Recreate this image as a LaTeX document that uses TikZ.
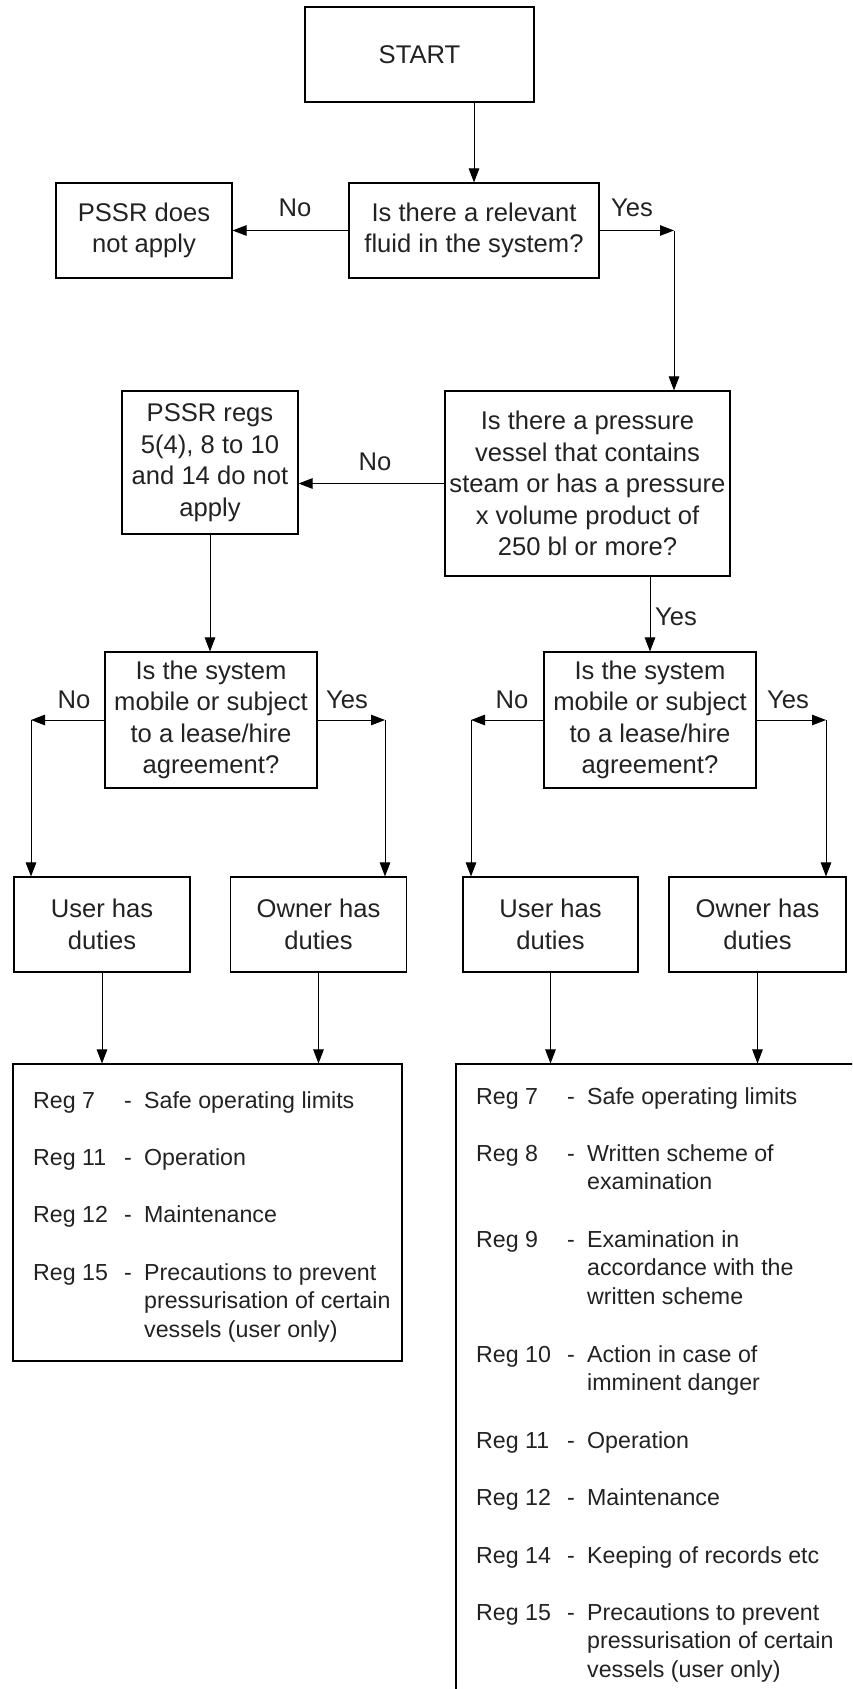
\documentclass[tikz,border=0pt]{standalone}
\usepackage{fontspec}
\setmainfont{Liberation Sans}
\usetikzlibrary{arrows.meta,calc}
\definecolor{txt}{HTML}{222222}
\begin{document}
\begin{tikzpicture}[x=1pt,y=-1pt,
  box/.style={draw, line width=1.1pt, align=center, inner sep=0pt,
    font=\fontsize{25.6}{31.5}\selectfont, text=txt},
  arr/.style={line width=1pt, -{Triangle[length=14pt,width=10.5pt]}},
  lbl/.style={font=\fontsize{25.6}{31.5}\selectfont, text=txt, inner sep=0pt},
  regbox/.style={draw, line width=1.1pt, inner sep=0pt},
  reg/.style={font=\fontsize{23.2}{28.7}\selectfont, text=txt, inner sep=0pt, anchor=base west},
]
\useasboundingbox (0,0) rectangle (852,1689);
\clip (0,0) rectangle (852,1689);

% flowchart boxes
\node[box, minimum width=229pt, minimum height=95pt] (start) at (419.5,54.5) {START};
\node[box, minimum width=250pt, minimum height=95pt] (q1) at (474,230.5) {Is there a relevant\\fluid in the system?};
\node[box, minimum width=176pt, minimum height=95pt] (pssr) at (144,230.5) {PSSR does\\not apply};
\node[box, minimum width=285pt, minimum height=185pt] (q2) at (587.5,483.5) {Is there a pressure\\vessel that contains\\steam or has a pressure\\x volume product of\\250 bl or more?};
\node[box, minimum width=176pt, minimum height=143pt] (regs) at (210,462.5) {PSSR regs\\5(4), 8 to 10\\and 14 do not\\apply};
\node[box, minimum width=212pt, minimum height=136pt] (q3l) at (211,720) {Is the system\\mobile or subject\\to a lease/hire\\agreement?};
\node[box, minimum width=212pt, minimum height=136pt] (q3r) at (650,720) {Is the system\\mobile or subject\\to a lease/hire\\agreement?};
\node[box, minimum width=176pt, minimum height=95pt] (userL) at (102,924.5) {User has\\duties};
\node[box, minimum width=176pt, minimum height=95pt] (ownerL) at (318.5,924.5) {Owner has\\duties};
\node[box, minimum width=175pt, minimum height=95pt] (userR) at (550.5,924.5) {User has\\duties};
\node[box, minimum width=177pt, minimum height=95pt] (ownerR) at (757.5,924.5) {Owner has\\duties};
\node[regbox, minimum width=389pt, minimum height=297pt] (regL) at (207.5,1212.5) {};
\node[regbox, minimum width=424pt, minimum height=656pt] (regR) at (668,1392) {};

% corner coordinates
\coordinate (c1) at (674,230.5);
\coordinate (c2) at (31,720);
\coordinate (c3) at (385,720);
\coordinate (c4) at (471,720);
\coordinate (c5) at (826,720);

% connectors
\draw[arr] (start.south -| q1.north) -- (q1.north);
\draw[arr] (q1.west) -- (pssr.east);
\draw[arr] (q1.east) -- (c1);
\draw[arr] (c1) -- (c1 |- q2.north);
\draw[arr] (q2.west) -- (q2.west -| regs.east);
\draw[arr] (regs.south) -- (regs.south |- q3l.north);
\draw[arr] (q2.south -| q3r.north) -- (q3r.north);
\draw[arr] (q3l.west) -- (c2);
\draw[arr] (c2) -- (c2 |- userL.north);
\draw[arr] (q3l.east) -- (c3);
\draw[arr] (c3) -- (c3 |- ownerL.north);
\draw[arr] (q3r.west) -- (c4);
\draw[arr] (c4) -- (c4 |- userR.north);
\draw[arr] (q3r.east) -- (c5);
\draw[arr] (c5) -- (c5 |- ownerR.north);
\draw[arr] (userL.south) -- (userL.south |- regL.north);
\draw[arr] (ownerL.south) -- (ownerL.south |- regL.north);
\draw[arr] (userR.south) -- (userR.south |- regR.north);
\draw[arr] (ownerR.south) -- (ownerR.south |- regR.north);

% connector labels
\node[lbl] (l1) at (295,208) {No};
\node[lbl] (l2) at (632,208) {Yes};
\node[lbl] (l3) at (375,462) {No};
\node[lbl] (l4) at (676,617) {Yes};
\node[lbl] (l5) at (74,700) {No};
\node[lbl] (l6) at (347,700) {Yes};
\node[lbl] (l7) at (512,700) {No};
\node[lbl] (l8) at (788,700) {Yes};

% left regulations
\node[reg] (a1) at (33,1108) {\begin{tabular}[t]{@{}p{91pt}@{}p{20pt}@{}l@{}}Reg 7 & - & Safe operating limits\end{tabular}};
\node[reg] (a2) at (33,1165) {\begin{tabular}[t]{@{}p{91pt}@{}p{20pt}@{}l@{}}Reg 11 & - & Operation\end{tabular}};
\node[reg] (a3) at (33,1222) {\begin{tabular}[t]{@{}p{91pt}@{}p{20pt}@{}l@{}}Reg 12 & - & Maintenance\end{tabular}};
\node[reg] (a4) at (33,1280) {\begin{tabular}[t]{@{}p{91pt}@{}p{20pt}@{}l@{}}Reg 15 & - & Precautions to prevent\\ & & pressurisation of certain\\ & & vessels (user only)\end{tabular}};

% right regulations
\node[reg] (b1) at (476,1104) {\begin{tabular}[t]{@{}p{91pt}@{}p{20pt}@{}l@{}}Reg 7 & - & Safe operating limits\end{tabular}};
\node[reg] (b2) at (476,1161) {\begin{tabular}[t]{@{}p{91pt}@{}p{20pt}@{}l@{}}Reg 8 & - & Written scheme of\\ & & examination\end{tabular}};
\node[reg] (b3) at (476,1247) {\begin{tabular}[t]{@{}p{91pt}@{}p{20pt}@{}l@{}}Reg 9 & - & Examination in\\ & & accordance with the\\ & & written scheme\end{tabular}};
\node[reg] (b4) at (476,1362) {\begin{tabular}[t]{@{}p{91pt}@{}p{20pt}@{}l@{}}Reg 10 & - & Action in case of\\ & & imminent danger\end{tabular}};
\node[reg] (b5) at (476,1448) {\begin{tabular}[t]{@{}p{91pt}@{}p{20pt}@{}l@{}}Reg 11 & - & Operation\end{tabular}};
\node[reg] (b6) at (476,1505) {\begin{tabular}[t]{@{}p{91pt}@{}p{20pt}@{}l@{}}Reg 12 & - & Maintenance\end{tabular}};
\node[reg] (b7) at (476,1563) {\begin{tabular}[t]{@{}p{91pt}@{}p{20pt}@{}l@{}}Reg 14 & - & Keeping of records etc\end{tabular}};
\node[reg] (b8) at (476,1620) {\begin{tabular}[t]{@{}p{91pt}@{}p{20pt}@{}l@{}}Reg 15 & - & Precautions to prevent\\ & & pressurisation of certain\\ & & vessels (user only)\end{tabular}};
\end{tikzpicture}
\end{document}
